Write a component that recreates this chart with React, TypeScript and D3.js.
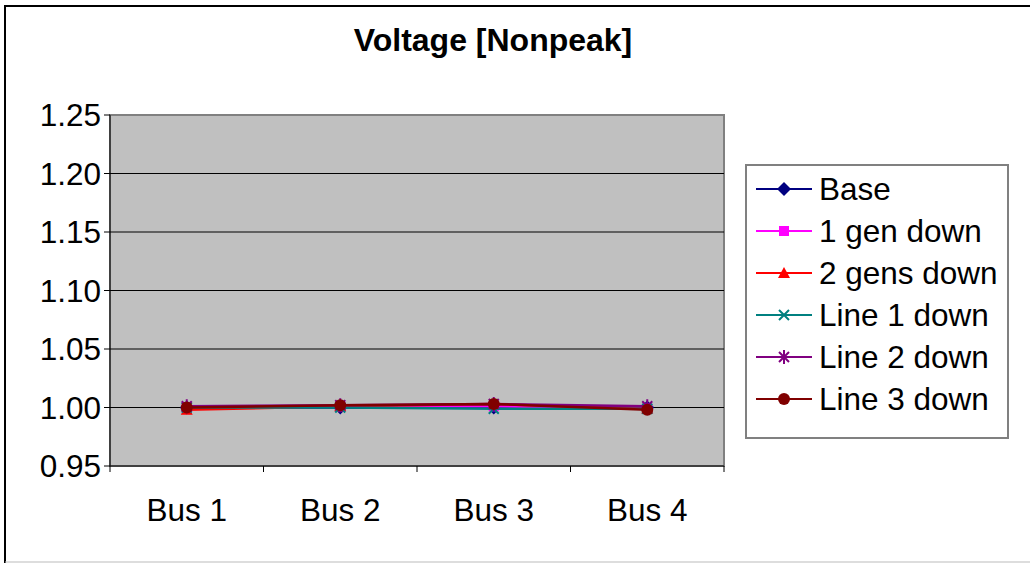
import * as d3 from 'd3';

const categories = ['Bus 1', 'Bus 2', 'Bus 3', 'Bus 4'];
const seriesNames = ['Base', '1 gen down', '2 gens down', 'Line 1 down', 'Line 2 down', 'Line 3 down'];
const base = [1.0, 1.0, 1.0, 1.0];
const oneGenDown = [1.0, 1.001, 1.001, 0.999];
const twoGensDown = [0.998, 1.001, 1.003, 0.999];
const line1Down = [1.0, 1.0, 0.999, 0.999];
const line2Down = [1.001, 1.002, 1.003, 1.001];
const line3Down = [1.0, 1.002, 1.003, 0.998];
const yTicks = [0.95, 1.0, 1.05, 1.1, 1.15, 1.2, 1.25];

const colors = ['#000080', '#ff00ff', '#ff0000', '#008080', '#800080', '#800000'];
const markers = ['diamond', 'square', 'triangle', 'x', 'star', 'circle'];
const allValues = [base, oneGenDown, twoGensDown, line1Down, line2Down, line3Down];

const W = 1030;
const H = 563;
const plot = { left: 110, top: 115, right: 724, bottom: 466 };
const font = "'Liberation Sans', Arial, sans-serif";

function Marker({ type, x, y, color }: { type: string; x: number; y: number; color: string }) {
  if (type === 'diamond') {
    return <path d={`M${x},${y - 7}L${x + 7},${y}L${x},${y + 7}L${x - 7},${y}Z`} fill={color} />;
  }
  if (type === 'square') {
    return <rect x={x - 5} y={y - 5} width={10} height={10} fill={color} />;
  }
  if (type === 'triangle') {
    return <path d={`M${x},${y - 6}L${x + 6},${y + 5}L${x - 6},${y + 5}Z`} fill={color} />;
  }
  if (type === 'x') {
    return (
      <path d={`M${x - 5},${y - 5}L${x + 5},${y + 5}M${x - 5},${y + 5}L${x + 5},${y - 5}`} stroke={color} strokeWidth={2} />
    );
  }
  if (type === 'star') {
    return (
      <path
        d={`M${x - 5},${y - 5}L${x + 5},${y + 5}M${x - 5},${y + 5}L${x + 5},${y - 5}M${x},${y - 7}L${x},${y + 7}`}
        stroke={color}
        strokeWidth={2}
      />
    );
  }
  return <circle cx={x} cy={y} r={6} fill={color} />;
}

export default function App() {
  const x = d3.scaleBand<string>().domain(categories).range([plot.left, plot.right]);
  const y = d3.scaleLinear().domain([0.95, 1.25]).range([plot.bottom, plot.top]);
  const line = d3
    .line<number>()
    .x((_, i) => (x(categories[i]) as number) + x.bandwidth() / 2)
    .y((d) => y(d));

  const legendTop = 189;
  const legendStep = 42;

  return (
    <svg width={W} height={H} style={{ position: 'absolute', left: 0, top: 0 }}>
      <rect x={0} y={0} width={W} height={H} fill="#fff" />
      {/* chart border */}
      <path d={`M5,${H + 5}V6H${W + 5}`} fill="none" stroke="#000" strokeWidth={2} />
      <line x1={5} x2={W} y1={562} y2={562} stroke="#bbb" strokeWidth={1} />

      <text x={493} y={51} textAnchor="middle" fontFamily={font} fontWeight="bold" fontSize={32}>
        Voltage [Nonpeak]
      </text>

      {/* plot area */}
      <rect x={plot.left} y={plot.top} width={plot.right - plot.left} height={plot.bottom - plot.top} fill="#c0c0c0" stroke="#808080" strokeWidth={2} />

      {yTicks.slice(1, -1).map((t) => (
        <line key={t} x1={plot.left} x2={plot.right} y1={y(t)} y2={y(t)} stroke="#000" strokeWidth={1} />
      ))}

      {/* y axis */}
      <line x1={plot.left} x2={plot.left} y1={plot.top} y2={plot.bottom} stroke="#000" strokeWidth={1} />
      {yTicks.map((t) => (
        <g key={t}>
          <line x1={plot.left - 6} x2={plot.left} y1={y(t)} y2={y(t)} stroke="#000" />
          <text x={plot.left - 9} y={y(t)} dy="0.36em" textAnchor="end" fontFamily={font} fontSize={31.5}>
            {t.toFixed(2)}
          </text>
        </g>
      ))}

      {/* x axis */}
      <line x1={plot.left} x2={plot.right} y1={plot.bottom} y2={plot.bottom} stroke="#000" strokeWidth={1} />
      {categories.map((c, i) => (
        <g key={c}>
          <line x1={x(c) as number} x2={x(c) as number} y1={plot.bottom} y2={plot.bottom + 6} stroke="#000" />
          {i === categories.length - 1 && (
            <line x1={plot.right} x2={plot.right} y1={plot.bottom} y2={plot.bottom + 6} stroke="#000" />
          )}
          <text x={(x(c) as number) + x.bandwidth() / 2} y={521} textAnchor="middle" fontFamily={font} fontSize={31.5}>
            {c}
          </text>
        </g>
      ))}

      {/* series */}
      {allValues.map((vals, s) => (
        <g key={seriesNames[s]}>
          <path d={line(vals) as string} fill="none" stroke={colors[s]} strokeWidth={2.5} />
          {vals.map((v, i) => (
            <Marker key={i} type={markers[s]} x={(x(categories[i]) as number) + x.bandwidth() / 2} y={y(v)} color={colors[s]} />
          ))}
        </g>
      ))}

      {/* legend */}
      <rect x={746} y={165} width={262} height={273} fill="#fff" stroke="#808080" strokeWidth={2} />
      {seriesNames.map((n, s) => {
        const ly = legendTop + s * legendStep;
        return (
          <g key={n}>
            <line x1={756} x2={812} y1={ly} y2={ly} stroke={colors[s]} strokeWidth={2} />
            <Marker type={markers[s]} x={784} y={ly} color={colors[s]} />
            <text x={819} y={ly} dy="0.36em" fontFamily={font} fontSize={31.5}>
              {n}
            </text>
          </g>
        );
      })}
    </svg>
  );
}
